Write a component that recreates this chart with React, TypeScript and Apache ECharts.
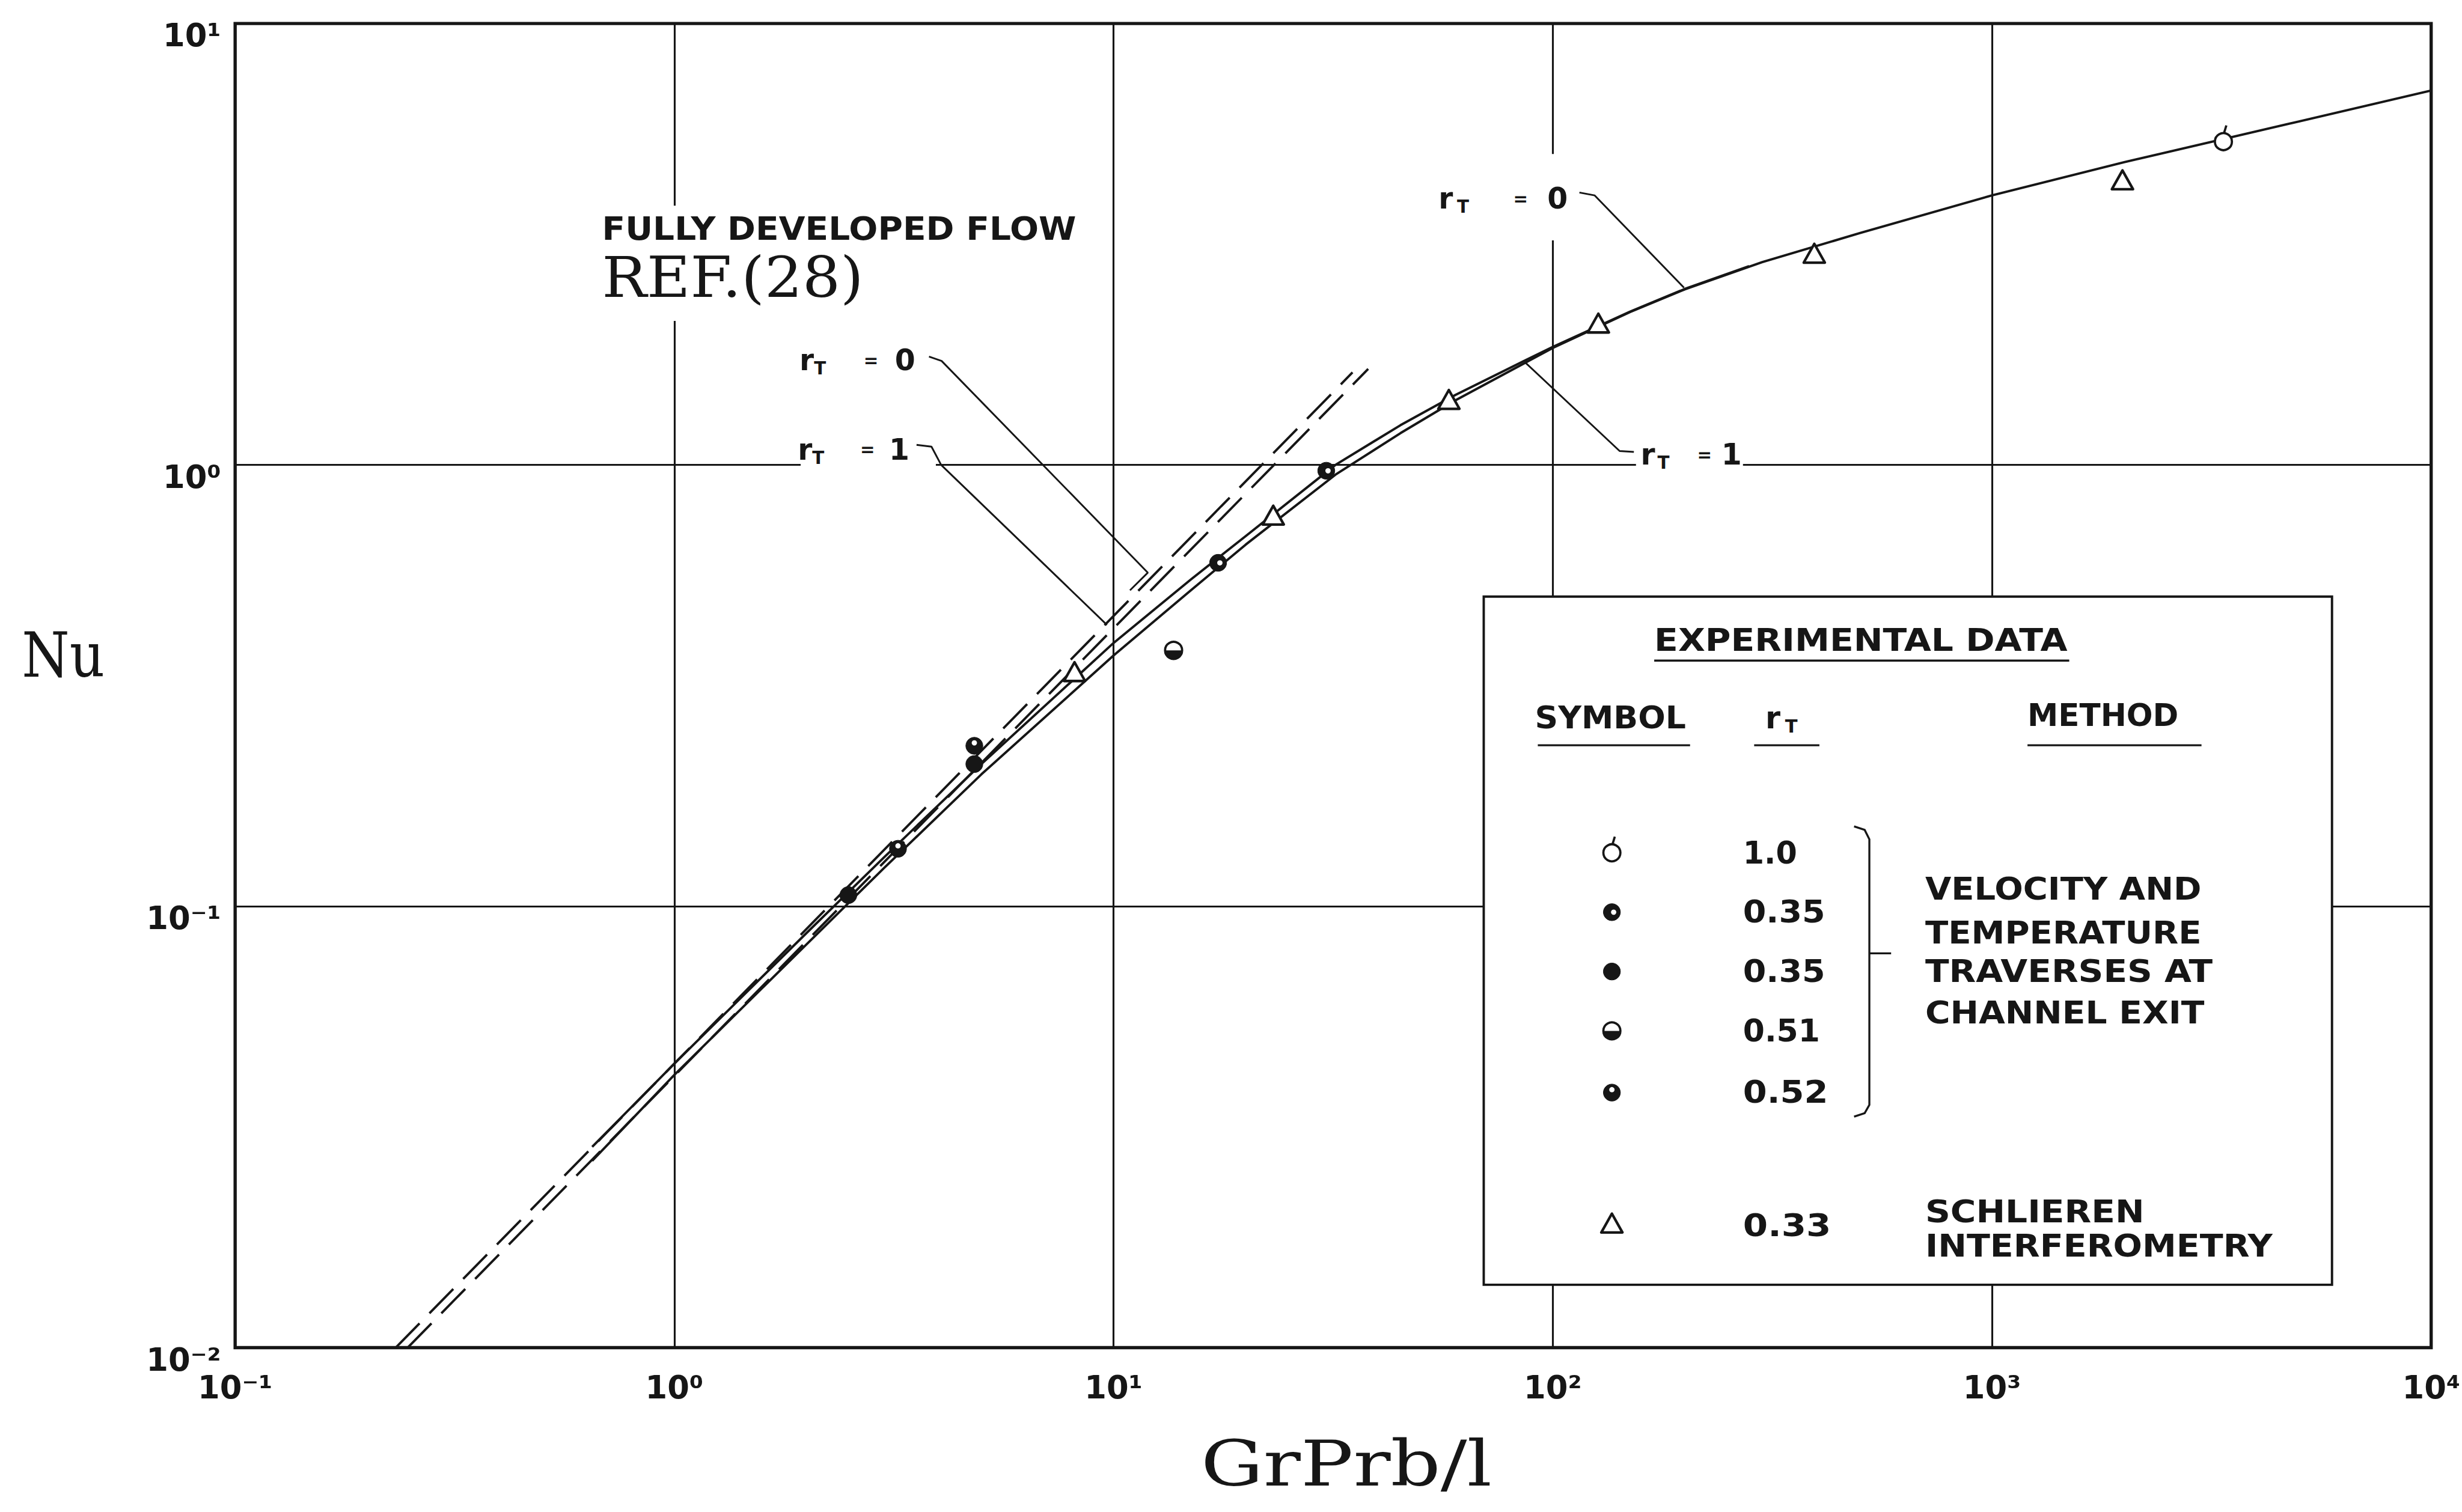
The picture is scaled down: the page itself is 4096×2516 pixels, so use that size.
import React, { useEffect, useRef } from "react";
import * as echarts from "echarts";

// Layout is specified in a 4185 x 2571 drawing space and scaled by S.
const S = 0.978;
const W = 4096;
const H = 2516;
const INK = "#161616";
const SANS = "DejaVu Sans";
const SERIF = "DejaVu Serif";

// Axis extents: GrPr b/l (x) and Nu (y), both logarithmic
const xRange = [0.1, 10000];
const yRange = [0.01, 10];

// Developing-flow solutions (solid curves)
const rt0X = [0.65, 1, 2, 3, 5, 10, 15, 20, 32, 45, 60, 85, 100, 150, 200, 280];
const rt0Nu = [0.0285, 0.044, 0.087, 0.129, 0.21, 0.395, 0.55, 0.69, 1.0, 1.23, 1.44, 1.71, 1.85, 2.225, 2.505, 2.82];
const rt1X = [0.65, 1, 2, 3, 5, 10, 15, 20, 32, 45, 60, 100, 150, 200, 300, 500, 1000, 2000, 5000, 10000];
const rt1Nu = [0.0265, 0.0415, 0.082, 0.122, 0.199, 0.37, 0.52, 0.66, 0.95, 1.18, 1.4, 1.84, 2.22, 2.5, 2.88, 3.35, 4.08, 4.85, 6.0, 7.05];

// Fully developed flow, Ref. (28) (dashed)
const fdRt0X = [0.232, 35];
const fdRt0Nu = [0.01, 1.62];
const fdRt1X = [0.247, 38];
const fdRt1Nu = [0.01, 1.65];

// Experimental data, one list per symbol
const ptsRt100 = [[3365, 5.4]];
const ptsRt035a = [[17.3, 0.6], [30.5, 0.97]];
const ptsRt035b = [[2.49, 0.106], [4.82, 0.21]];
const ptsRt051 = [[13.7, 0.38]];
const ptsRt052 = [[3.23, 0.135], [4.82, 0.231]];
const ptsRt033 = [[8.15, 0.336], [23.1, 0.76], [58, 1.39], [127, 2.07], [394, 2.98], [1982, 4.37]];

// Leader lines from the curve labels
const leadUpperRt0 = [[3.8, 1.76], [4.06, 1.72], [11.97, 0.57], [10.9, 0.52]];
const leadUpperRt1 = [[3.56, 1.11], [3.85, 1.1], [4.05, 1.0], [9.66, 0.434]];
const leadRightRt0 = [[115, 4.14], [124.5, 4.08], [199, 2.52]];
const leadRightRt1 = [[86.9, 1.7], [142, 1.075], [153, 1.07]];

// Legend table
const legendKinds = ["rt100", "rt035a", "rt035b", "rt051", "rt052", "rt033"];
const legendRt = ["1.0", "0.35", "0.35", "0.51", "0.52", "0.33"];
const legendRtWidth = [92, 140, 140, 131, 145, 150];
const legendRowY = [1451, 1552, 1653, 1754, 1859, 2085];
const methodTraverse = ["VELOCITY AND", "TEMPERATURE", "TRAVERSES AT", "CHANNEL EXIT"];
const methodTraverseY = [1513, 1587, 1653, 1723];
const methodTraverseW = [470, 470, 489, 475];
const methodSchlieren = ["SCHLIEREN", "INTERFEROMETRY"];
const methodSchlierenY = [2062, 2120];
const methodSchlierenW = [373, 591];

const SUP: Record<string, string> = { "-": "\u207B", "0": "\u2070", "1": "\u00B9", "2": "\u00B2", "3": "\u00B3", "4": "\u2074" };
const powLabel = (v: number) =>
  "10" + String(Math.round(Math.log10(v))).split("").map((c) => SUP[c] || c).join("");

const pairs = (xs: number[], ys: number[]) => xs.map((x, i) => [x, ys[i]]);

let measureCtx: CanvasRenderingContext2D | null = null;
function measure(text: string, font: string) {
  if (!measureCtx) measureCtx = document.createElement("canvas").getContext("2d");
  measureCtx!.font = font;
  return measureCtx!.measureText(text).width;
}

const align = { align: "left", verticalAlign: "middle", textAlign: "left", textVerticalAlign: "middle" };

// Text stretched horizontally to a given width (drawing-space units)
function fitted(text: string, left: number, cy: number, width: number, fs: number, family = SANS, weight = "bold", sy = 1) {
  const sx = width / measure(text, `${weight} ${fs}px "${family}"`);
  return {
    type: "text",
    x: left * S,
    y: cy * S,
    scaleX: sx,
    scaleY: sy,
    z: 60,
    silent: true,
    style: { text, fontFamily: family, fontWeight: weight, fontSize: fs * S, fill: INK, ...align },
  };
}

// "r_T = value" lettering with subscript T
function rtLabel(value: string | null, left: number, cy: number, pads: number[], fs = 50) {
  const f = fs * S;
  const base = { fontFamily: SANS, fontWeight: "bold", fill: INK };
  const text = value == null ? "{r|r}{t|T}" : `{r|r}{t|T}{e|=}{n|${value}}`;
  return {
    type: "text",
    x: left * S,
    y: cy * S,
    z: 60,
    silent: true,
    style: {
      text,
      ...align,
      rich: {
        r: { ...base, fontSize: f },
        t: { ...base, fontSize: f * 0.6, padding: [f * 0.55, 0, 0, pads[0] * S] },
        e: { ...base, fontSize: f * 0.6, padding: [0, 0, 0, (pads[1] || 0) * S] },
        n: { ...base, fontSize: f, padding: [0, 0, 0, (pads[2] || 0) * S] },
      },
    },
  };
}

function whiteRect(x1: number, y1: number, x2: number, y2: number) {
  return {
    type: "rect",
    z: 40,
    silent: true,
    shape: { x: x1 * S, y: y1 * S, width: (x2 - x1) * S, height: (y2 - y1) * S },
    style: { fill: "#fff" },
  };
}

function hline(x1: number, x2: number, y: number, lw = 3.4) {
  return {
    type: "line",
    z: 60,
    silent: true,
    shape: { x1: x1 * S, y1: y * S, x2: x2 * S, y2: y * S },
    style: { stroke: INK, lineWidth: lw * S },
  };
}

// Plot symbols, drawn around a pixel centre
function symbolShapes(kind: string, cx: number, cy: number): any[] {
  const r = 14.5 * S;
  const lw = 3.8 * S;
  switch (kind) {
    case "rt100":
      return [
        { type: "line", shape: { x1: cx + 1, y1: cy - r, x2: cx + 5 * S, y2: cy - r - 13 * S }, style: { stroke: INK, lineWidth: lw } },
        { type: "circle", shape: { cx, cy, r }, style: { fill: "#fff", stroke: INK, lineWidth: lw } },
      ];
    case "rt035a":
      return [
        { type: "circle", shape: { cx, cy, r }, style: { fill: INK, stroke: INK, lineWidth: 1 } },
        { type: "circle", shape: { cx: cx + 3 * S, cy, r: 4.5 * S }, style: { fill: "#fff" } },
      ];
    case "rt035b":
      return [{ type: "circle", shape: { cx, cy, r }, style: { fill: INK, stroke: INK, lineWidth: 1 } }];
    case "rt051":
      return [
        { type: "circle", shape: { cx, cy, r }, style: { fill: "#fff", stroke: INK, lineWidth: lw } },
        { type: "sector", shape: { cx, cy, r0: 0, r, startAngle: 0, endAngle: Math.PI }, style: { fill: INK } },
      ];
    case "rt052":
      return [
        { type: "circle", shape: { cx, cy, r }, style: { fill: INK, stroke: INK, lineWidth: 1 } },
        { type: "circle", shape: { cx, cy: cy - 5 * S, r: 4.5 * S }, style: { fill: "#fff" } },
      ];
    default: {
      const hw = 18 * S;
      return [
        {
          type: "polygon",
          shape: { points: [[cx, cy - 20 * S], [cx - hw, cy + 12 * S], [cx + hw, cy + 12 * S]] },
          style: { fill: "#fff", stroke: INK, lineWidth: 4.4 * S, lineJoin: "round" },
        },
      ];
    }
  }
}

function symbolSeries(name: string, data: number[][], kind: string) {
  return {
    type: "custom",
    name,
    data,
    z: 10,
    silent: true,
    renderItem: (_params: any, api: any) => {
      const [cx, cy] = api.coord([api.value(0), api.value(1)]);
      return { type: "group", children: symbolShapes(kind, cx, cy) };
    },
  };
}

function curve(name: string, data: number[][], dashed = false) {
  return {
    type: "line",
    name,
    data,
    showSymbol: false,
    silent: true,
    smooth: false,
    z: 3,
    lineStyle: { color: INK, width: 4 * S, type: dashed ? [58 * S, 24 * S] : "solid", join: "round" },
  };
}

function leader(name: string, data: number[][]) {
  return {
    type: "line",
    name,
    data,
    showSymbol: false,
    silent: true,
    z: 70,
    lineStyle: { color: INK, width: 3 * S },
  };
}

function buildGraphic() {
  const els: any[] = [];
  // white patches where lettering interrupts the grid
  els.push(whiteRect(1005, 350, 1850, 546));
  els.push(whiteRect(1362, 738, 1592, 808));
  els.push(whiteRect(2432, 262, 2690, 409));
  els.push(whiteRect(2783, 742, 2965, 808));

  // curve captions
  els.push(fitted("FULLY DEVELOPED FLOW", 1024, 389, 807, 54));
  els.push(fitted("REF.(28)", 1024, 472, 445, 95, SERIF, "normal"));
  els.push(rtLabel("0", 1360, 613, [0, 64, 28]));
  els.push(rtLabel("1", 1357, 765, [0, 61, 24]));
  els.push(rtLabel("0", 2447, 338, [7, 75, 33]));
  els.push(rtLabel("1", 2791, 774, [4, 47, 16]));

  // axis titles
  els.push(fitted("Nu", 37, 1115, 141, 106, SERIF, "normal"));
  els.push(fitted("GrPrb/l", 2043, 2490, 495, 107, SERIF, "normal"));

  // legend box
  els.push({
    type: "rect",
    z: 50,
    silent: true,
    shape: { x: 2524 * S, y: 1015 * S, width: (3967 - 2524) * S, height: (2186 - 1015) * S },
    style: { fill: "#fff", stroke: INK, lineWidth: 4 * S },
  });
  els.push(fitted("EXPERIMENTAL DATA", 2814, 1089, 703, 52));
  els.push(hline(2814, 3520, 1124));
  els.push(fitted("SYMBOL", 2611, 1221, 257, 52));
  els.push(hline(2616, 2875, 1268));
  els.push(rtLabel(null, 3003, 1221, [8], 52));
  els.push(hline(2984, 3095, 1268));
  els.push(fitted("METHOD", 3449, 1217, 257, 52));
  els.push(hline(3449, 3745, 1268));

  legendKinds.forEach((k, i) => {
    els.push({
      type: "group",
      silent: true,
      children: symbolShapes(k, 2742 * S, legendRowY[i] * S).map((c) => ({ ...c, z: 60 })),
    });
    els.push(fitted(legendRt[i], 2965, legendRowY[i], legendRtWidth[i], 52));
  });
  methodTraverse.forEach((t, i) => els.push(fitted(t, 3275, methodTraverseY[i], methodTraverseW[i], 52)));
  methodSchlieren.forEach((t, i) => els.push(fitted(t, 3275, methodSchlierenY[i], methodSchlierenW[i], 52)));

  // brace grouping the traverse methods
  els.push({
    type: "polyline",
    z: 60,
    silent: true,
    shape: {
      points: [
        [3154 * S, 1406 * S],
        [3172 * S, 1412 * S],
        [3180 * S, 1428 * S],
        [3180 * S, 1880 * S],
        [3172 * S, 1894 * S],
        [3154 * S, 1900 * S],
      ],
    },
    style: { stroke: INK, lineWidth: 3.4 * S, fill: null },
  });
  els.push(hline(3180, 3217, 1622));
  return els;
}

export default function App() {
  const ref = useRef<HTMLDivElement>(null);

  useEffect(() => {
    if (!ref.current) return;
    const chart = echarts.init(ref.current, null, { renderer: "svg" });
    const labelStyle = { fontFamily: SANS, fontWeight: "bold", fontSize: 54 * S, color: INK };
    chart.setOption({
      animation: false,
      backgroundColor: "#fff",
      grid: {
        left: 400 * S,
        top: 40 * S,
        width: 3740 * S,
        height: 2253 * S,
        show: true,
        borderColor: INK,
        borderWidth: 5.5 * S,
        backgroundColor: "transparent",
      },
      xAxis: {
        type: "log",
        logBase: 10,
        min: xRange[0],
        max: xRange[1],
        splitNumber: 5,
        axisLine: { show: false },
        axisTick: { show: false },
        splitLine: { show: true, lineStyle: { color: INK, width: 3.2 * S } },
        axisLabel: {
          ...labelStyle,
          formatter: powLabel,
          margin: 40 * S,
          lineHeight: 54 * S,
          showMinLabel: true,
          showMaxLabel: true,
        },
      },
      yAxis: {
        type: "log",
        logBase: 10,
        min: yRange[0],
        max: yRange[1],
        splitNumber: 3,
        axisLine: { show: false },
        axisTick: { show: false },
        splitLine: { show: true, lineStyle: { color: INK, width: 3.2 * S } },
        axisLabel: {
          ...labelStyle,
          formatter: powLabel,
          margin: 24 * S,
          verticalAlign: "top",
          lineHeight: 40 * S,
          showMinLabel: true,
          showMaxLabel: true,
        },
      },
      series: [
        curve("Fully developed, rT = 0", pairs(fdRt0X, fdRt0Nu), true),
        curve("Fully developed, rT = 1", pairs(fdRt1X, fdRt1Nu), true),
        curve("rT = 0", pairs(rt0X, rt0Nu)),
        curve("rT = 1", pairs(rt1X, rt1Nu)),
        leader("leader rT = 0 (fully developed)", leadUpperRt0),
        leader("leader rT = 1 (fully developed)", leadUpperRt1),
        leader("leader rT = 0", leadRightRt0),
        leader("leader rT = 1", leadRightRt1),
        symbolSeries("rT 1.0", ptsRt100, "rt100"),
        symbolSeries("rT 0.35 a", ptsRt035a, "rt035a"),
        symbolSeries("rT 0.35 b", ptsRt035b, "rt035b"),
        symbolSeries("rT 0.51", ptsRt051, "rt051"),
        symbolSeries("rT 0.52", ptsRt052, "rt052"),
        symbolSeries("rT 0.33", ptsRt033, "rt033"),
      ],
      graphic: { elements: buildGraphic() },
    });
    return () => chart.dispose();
  }, []);

  return (
    <div
      ref={ref}
      style={{ position: "absolute", left: 0, top: 0, width: W, height: H, background: "#fff" }}
    />
  );
}
